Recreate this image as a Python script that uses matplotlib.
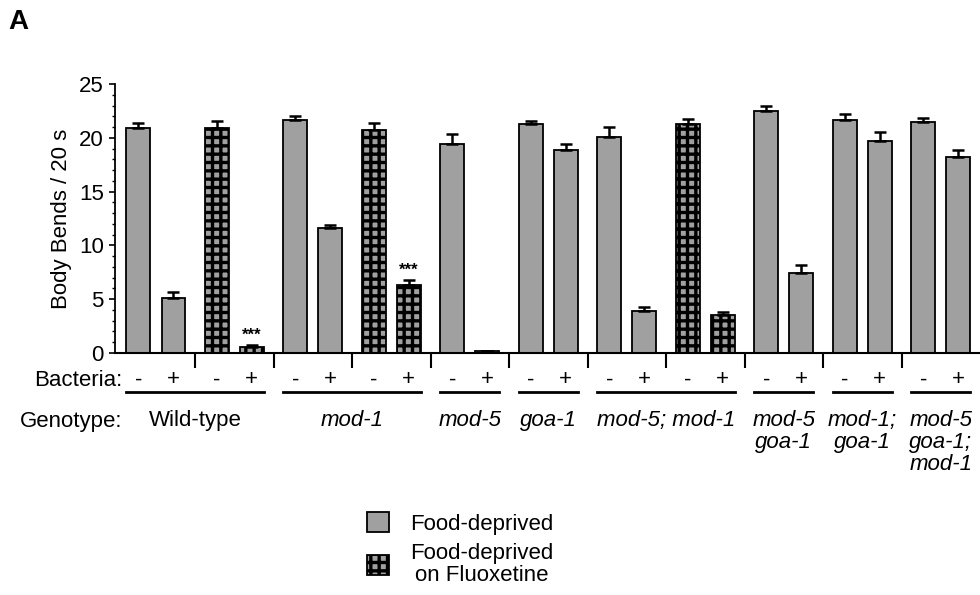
import numpy as np
import matplotlib
matplotlib.use("Agg")
import matplotlib.pyplot as plt
import matplotlib.transforms as mtransforms

plt.rcParams['font.family'] = ['Liberation Sans', 'DejaVu Sans']
plt.rcParams['hatch.linewidth'] = 2.4
plt.rcParams['hatch.color'] = 'black'

# data
genotypes = ['Wild-type', 'mod-1', 'mod-5', 'goa-1', 'mod-5; mod-1',
             'mod-5\ngoa-1', 'mod-1;\ngoa-1', 'mod-5\ngoa-1;\nmod-1']
group_sizes = [4, 4, 2, 2, 4, 2, 2, 2]
bacteria = ['-', '+'] * 11
fluoxetine = [0, 0, 1, 1, 0, 0, 1, 1, 0, 0, 0, 0, 0, 0, 1, 1, 0, 0, 0, 0, 0, 0]
means = [20.9, 5.15, 20.9, 0.6, 21.65, 11.6, 20.7, 6.35, 19.4, 0.15, 21.25,
         18.85, 20.1, 3.95, 21.3, 3.55, 22.5, 7.45, 21.7, 19.75, 21.5, 18.25]
sem = [0.45, 0.55, 0.65, 0.15, 0.4, 0.3, 0.65, 0.45, 1.0, 0.05, 0.35,
       0.55, 0.95, 0.3, 0.45, 0.25, 0.45, 0.75, 0.5, 0.75, 0.35, 0.65]
starred = [3, 7]

gray = '#a0a0a0'
fs = 16

n = len(means)
idx = np.arange(n)
x = idx // 2 + np.where(idx % 2 == 0, -0.223, 0.223)
width = 0.30
means = np.array(means)
sem = np.array(sem)
fl = np.array(fluoxetine) == 1

fig = plt.figure(figsize=(9.8, 5.95), dpi=100)
ax = fig.add_axes([0.1173, 0.4067, 0.8827, 0.452])

b1 = ax.bar(x[~fl], means[~fl], width, color=gray, edgecolor='black', linewidth=1.3,
            label='Food-deprived', zorder=2)
b2 = ax.bar(x[fl], means[fl], width, color=gray, edgecolor='black', linewidth=1.3,
            hatch='++', label='Food-deprived\non Fluoxetine', zorder=2)
ax.errorbar(x, means, yerr=[np.zeros(n), sem], fmt='none', ecolor='black',
            elinewidth=1.8, capsize=4, capthick=1.8, zorder=3)

for i in starred:
    ax.text(x[i], means[i] + sem[i] + 0.2, '***', ha='center', va='bottom',
            fontsize=12, fontweight='bold')

ax.set_xlim(-0.52, 10.5)
ax.set_ylim(0, 25)
ax.set_yticks(np.arange(0, 26, 5))
ax.set_yticks(np.arange(0, 26, 1), minor=True)
ax.tick_params(axis='y', which='major', length=4, width=1.2, labelsize=fs, pad=4)
ax.tick_params(axis='y', which='minor', length=2.5, width=1)
ax.set_xticks(np.arange(0.5, 10, 1))
ax.set_xticklabels([])
ax.tick_params(axis='x', length=11, width=1.5)
for s in ['top', 'right']:
    ax.spines[s].set_visible(False)
ax.spines['left'].set_linewidth(1.3)
ax.spines['bottom'].set_linewidth(1.5)
ax.set_ylabel('Body Bends / 20 s', fontsize=fs)
ax.yaxis.set_label_coords(-0.05, 0.5)

trans = mtransforms.blended_transform_factory(ax.transData, ax.transAxes)
for i in range(n):
    ax.text(x[i], -0.100, bacteria[i], transform=trans, ha='center', va='center',
            fontsize=fs)

start = 0
for g, size in zip(genotypes, group_sizes):
    lo = x[start] - width / 2
    hi = x[start + size - 1] + width / 2
    ax.plot([lo, hi], [-0.145, -0.145], transform=trans, color='black', lw=2,
            clip_on=False)
    ax.text((lo + hi) / 2, -0.213, g, transform=trans, ha='center', va='top',
            fontsize=fs, style='normal' if g == 'Wild-type' else 'italic',
            linespacing=1.05, multialignment='center')
    start += size

fig.text(122 / 980, 1 - 380 / 595, 'Bacteria:', ha='right', va='center', fontsize=fs)
fig.text(122 / 980, 1 - 421 / 595, 'Genotype:', ha='right', va='center', fontsize=fs)
fig.text(8 / 980, 1 - 22 / 595, 'A', ha='left', va='center', fontsize=20,
         fontweight='bold')

leg = fig.legend(handles=[b1, b2], loc='upper left',
                 bbox_to_anchor=(347 / 980, 1 - 492 / 595), frameon=False,
                 fontsize=fs, handlelength=1.0, handleheight=1.0,
                 handletextpad=0.95, labelspacing=0.4)
for t in leg.get_texts():
    t.set_multialignment('center')
    t.set_linespacing(1.05)

fig.savefig('out.png', dpi=100)
